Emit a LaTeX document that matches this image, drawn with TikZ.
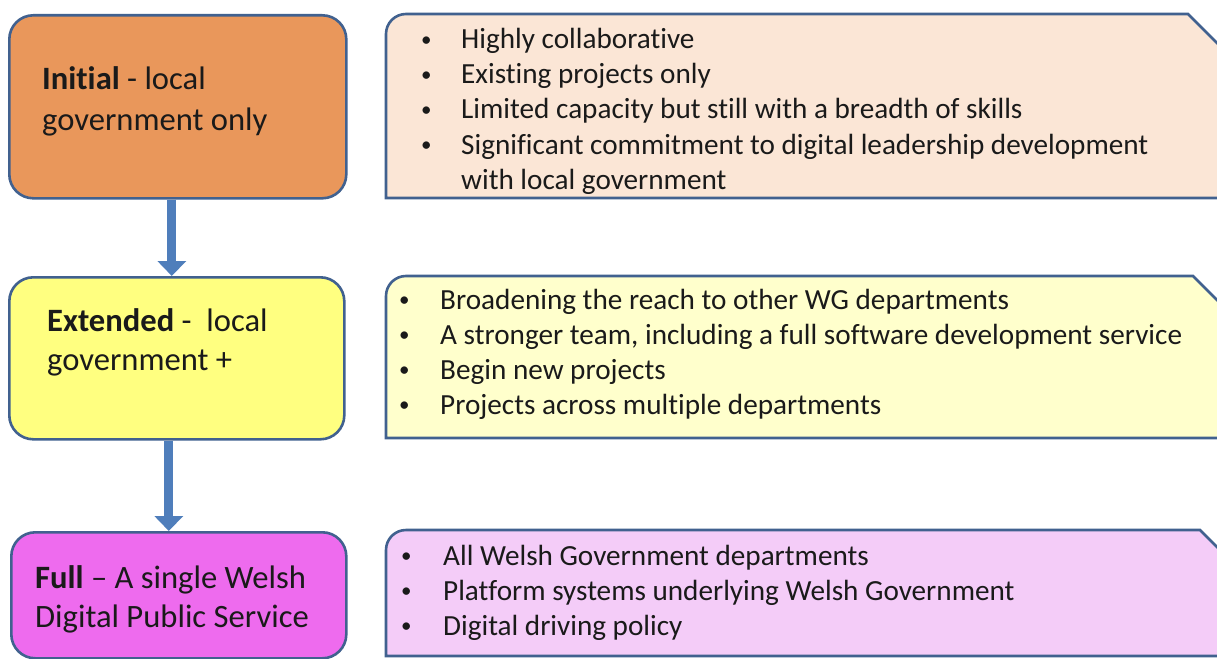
\documentclass[tikz,border=0pt]{standalone}
\usepackage{fontspec}
\setmainfont{Carlito}[Ligatures=NoCommon]
\usetikzlibrary{arrows.meta}
\definecolor{edge}{HTML}{41618F}
\definecolor{arr}{HTML}{4F7EBB}
\definecolor{orangeL}{HTML}{E9975B}
\definecolor{orangeR}{HTML}{FBE6D6}
\definecolor{yellowL}{HTML}{FFFF80}
\definecolor{yellowR}{HTML}{FFFFCC}
\definecolor{pinkL}{HTML}{EE6BEE}
\definecolor{pinkR}{HTML}{F4CCF8}
\definecolor{ink}{HTML}{1A1A1A}
\tikzset{
  stage/.style={draw=edge, line width=2.6pt, rounded corners=24pt, inner sep=0pt, anchor=north west},
  detail/.style={draw=edge, line width=2.6pt},
  lefttxt/.style={anchor=base west, inner sep=0pt, font=\fontsize{32.6}{38}\selectfont, text=ink},
  righttxt/.style={anchor=base west, inner sep=0pt, font=\fontsize{29.2}{35}\selectfont, text=ink},
  bul/.style={anchor=base west, inner sep=0pt, font=\fontsize{21}{25}\selectfont, text=ink},
  flow/.style={draw=arr, line width=9pt, -{Triangle[width=28pt,length=15pt]}},
}
\newcommand{\bulmark}{\raisebox{2.5pt}{•}}
\begin{document}
\begin{tikzpicture}[x=1pt,y=-1pt]
\useasboundingbox (0,0) rectangle (1217,658);
\clip (0,0) rectangle (1217,658);
\fill[white] (0,0) rectangle (1217,658);

% left stage boxes
\node[stage, fill=orangeL, minimum width=337pt, minimum height=183pt] (b1) at (8,14) {};
\node[stage, fill=yellowL, minimum width=335pt, minimum height=162pt] (b2) at (8,276) {};
\node[stage, fill=pinkL, minimum width=335pt, minimum height=126pt] (b3) at (10,531) {};

% arrows
\draw[flow] ([xshift=-6pt]b1.south) -- ([xshift=-6pt]b1.south |- b2.north);
\draw[flow] ([xshift=-8pt]b2.south) -- ([xshift=-8pt]b2.south |- b3.north);

% left texts
\node[lefttxt] (t1a) at (42,90) {\textbf{Initial} - local};
\node[lefttxt] (t1b) at (42,131) {government only};
\node[lefttxt] (t2a) at (47,331) {\textbf{Extended} -\ \ local};
\node[lefttxt] (t2b) at (47,370) {government +};
\node[lefttxt] (t3a) at (35,588) {\textbf{Full} – A single Welsh};
\node[lefttxt] (t3b) at (35,627) {Digital Public Service};

% right detail boxes
\draw[detail, fill=orangeR] (1240,198) -- (386,198) -- (386,34) arc[start angle=180,end angle=270,radius=20] -- (1188,14) -- (1240,66) -- cycle;
\draw[detail, fill=yellowR] (1240,438) -- (386,438) -- (386,296) arc[start angle=180,end angle=270,radius=20] -- (1193,276) -- (1240,323) -- cycle;
\draw[detail, fill=pinkR] (1240,656) -- (386,656) -- (386,550) arc[start angle=180,end angle=270,radius=20] -- (1200,530) -- (1240,570) -- cycle;

% right texts box 1
\foreach \y/\t in {49/Highly collaborative, 84/Existing projects only, 119/Limited capacity but still with a breadth of skills, 154/Significant commitment to digital leadership development}{
  \node[bul] at (421,\y) {\bulmark};
  \node[righttxt] at (461,\y) {\t};
}
\node[righttxt] (r1e) at (461,189) {with local government};

% right texts box 2
\foreach \y/\t in {309/Broadening the reach to other WG departments, 344/{A stronger team, including a full software development service}, 379/Begin new projects, 414/Projects across multiple departments}{
  \node[bul] at (399,\y) {\bulmark};
  \node[righttxt] at (440,\y) {\t};
}

% right texts box 3
\foreach \y/\t in {565/All Welsh Government departments, 600/Platform systems underlying Welsh Government, 635/Digital driving policy}{
  \node[bul] at (401,\y) {\bulmark};
  \node[righttxt] at (443,\y) {\t};
}
\end{tikzpicture}
\end{document}
